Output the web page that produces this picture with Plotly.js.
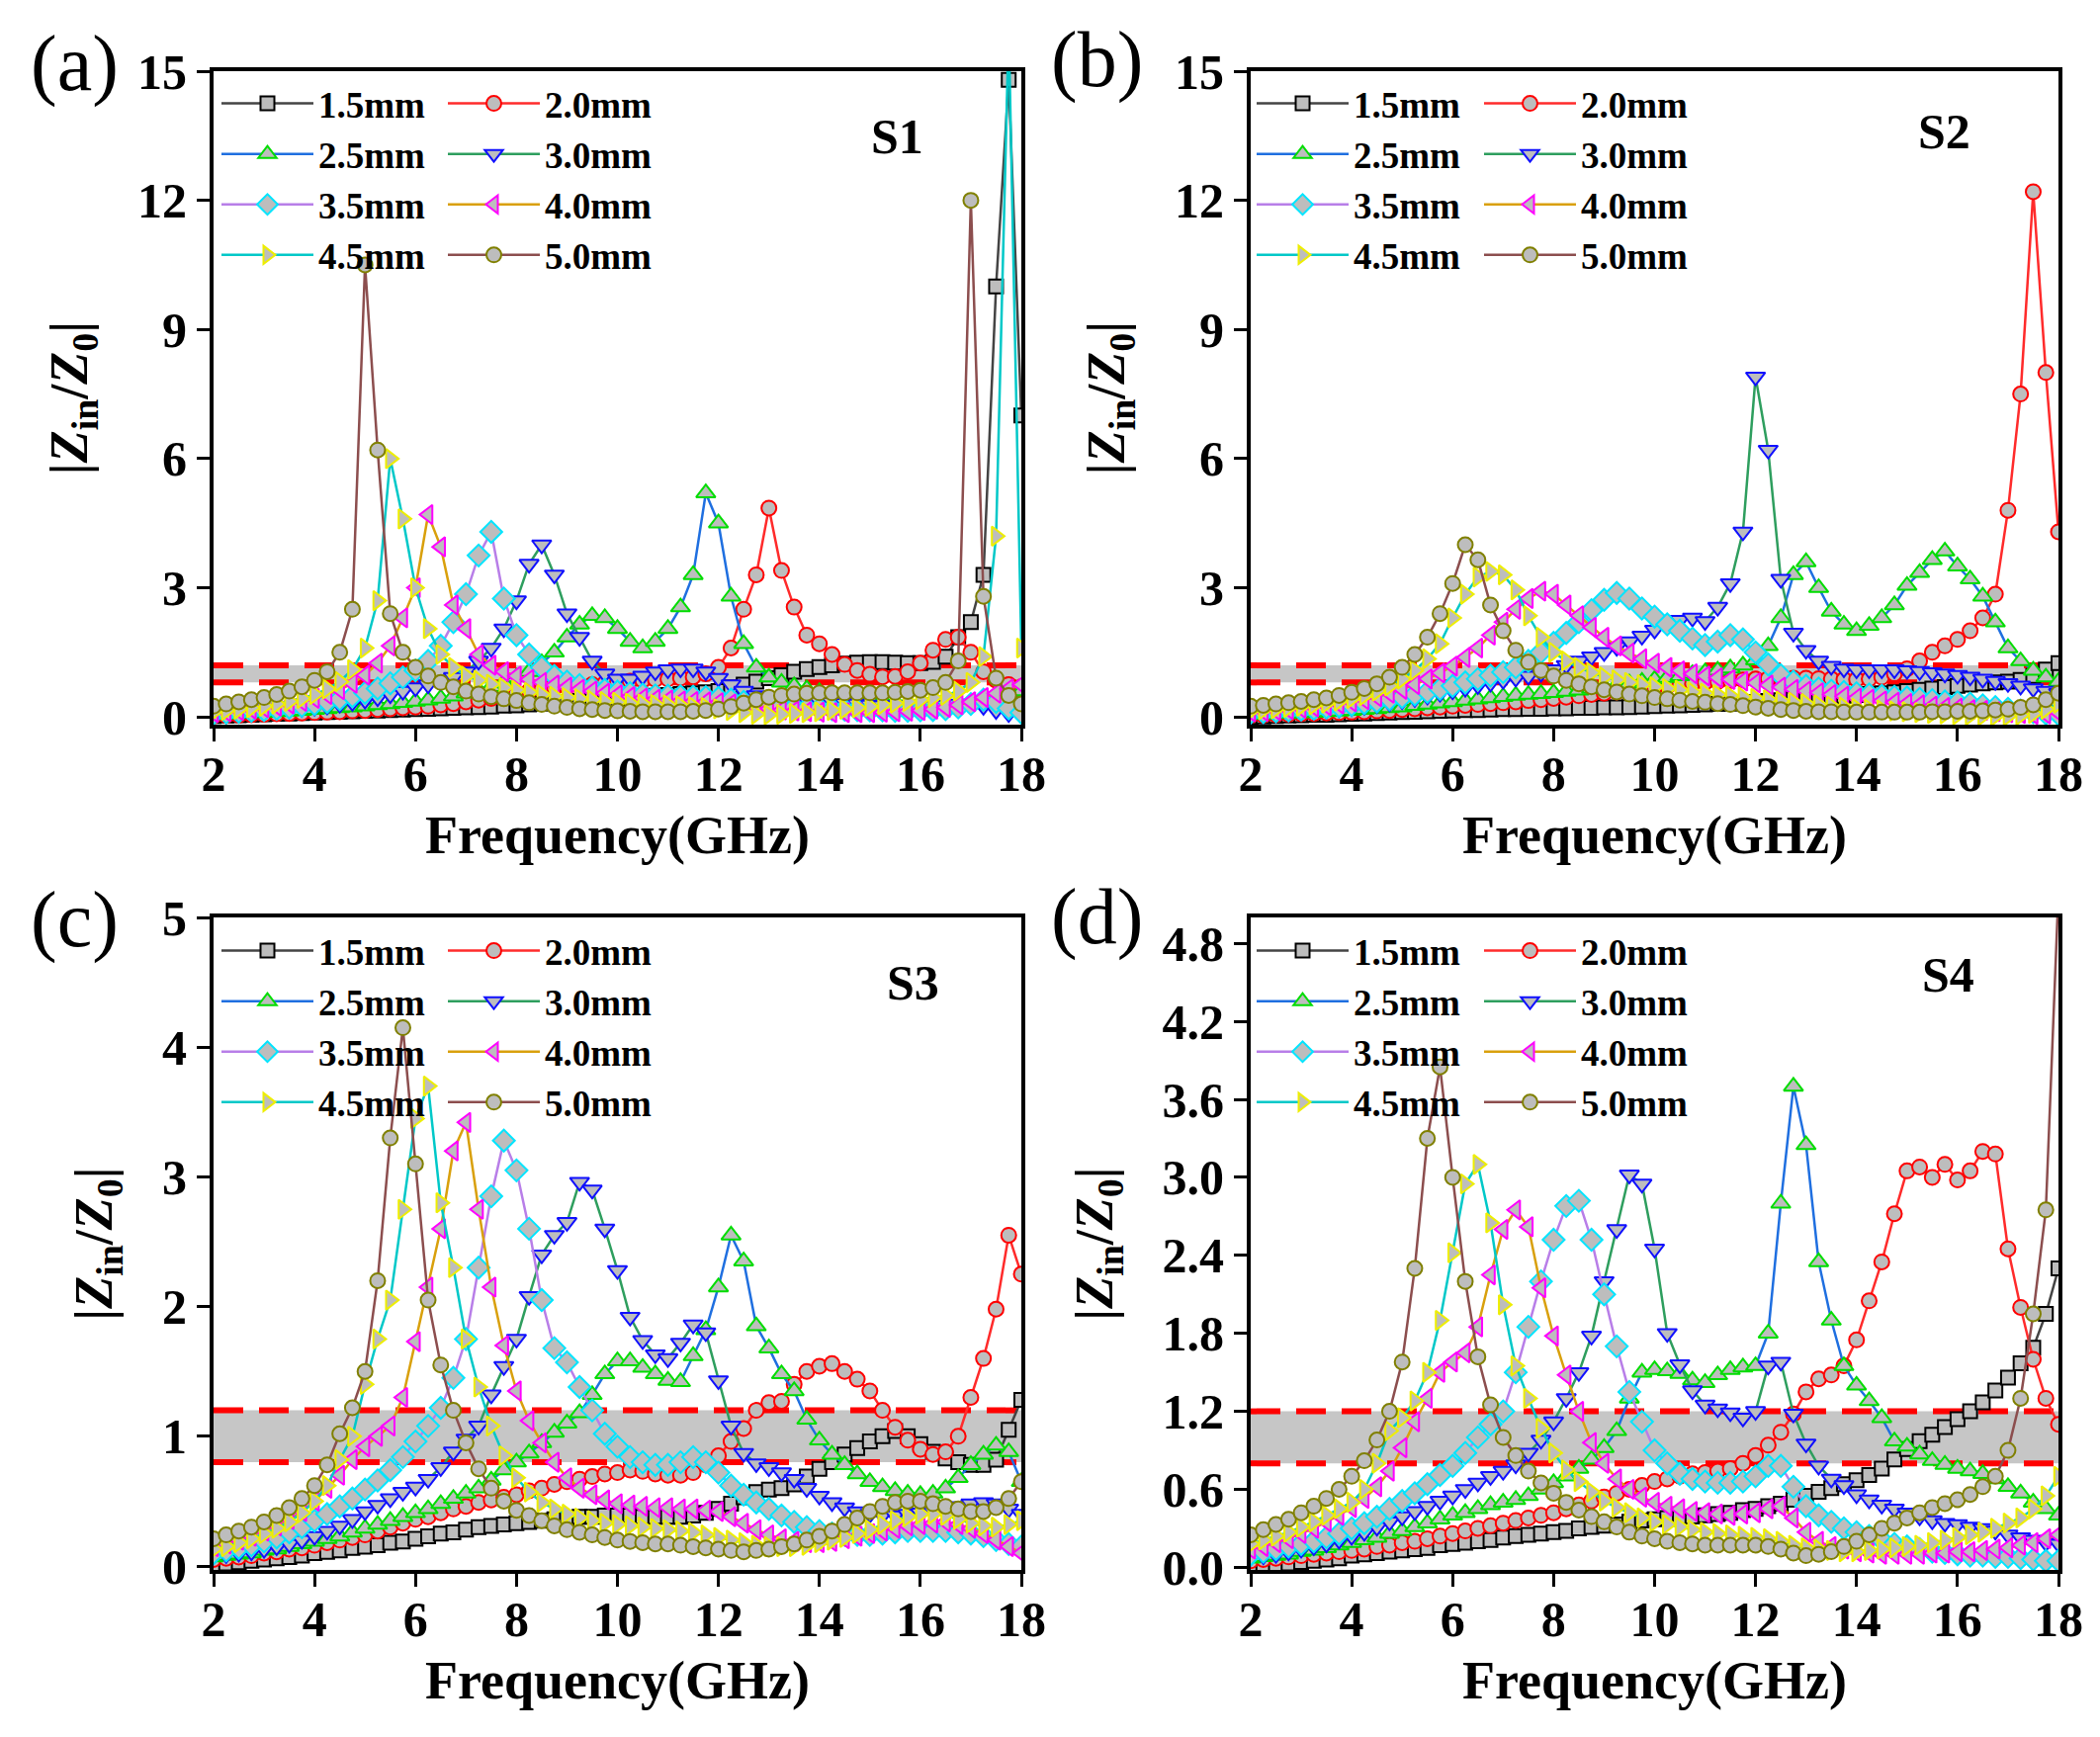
<!DOCTYPE html>
<html><head><meta charset="utf-8">
<script src="https://cdn.plot.ly/plotly-3.0.1.min.js"></script>
<style>html,body{margin:0;padding:0;background:#fff}</style>
</head><body><div id="chart" style="width:2124px;height:1757px"></div>
<script>
const freq = [2,2.25,2.5,2.75,3,3.25,3.5,3.75,4,4.25,4.5,4.75,5,5.25,5.5,5.75,6,6.25,6.5,6.75,7,7.25,7.5,7.75,8,8.25,8.5,8.75,9,9.25,9.5,9.75,10,10.25,10.5,10.75,11,11.25,11.5,11.75,12,12.25,12.5,12.75,13,13.25,13.5,13.75,14,14.25,14.5,14.75,15,15.25,15.5,15.75,16,16.25,16.5,16.75,17,17.25,17.5,17.75,18];
const thicknessNames = ['1.5mm','2.0mm','2.5mm','3.0mm','3.5mm','4.0mm','4.5mm','5.0mm'];
const panelLetters = ['(a)','(b)','(c)','(d)'];
const sampleNames = ['S1','S2','S3','S4'];
const bandLow = 0.8, bandHigh = 1.2;

// ---- S1 ----
const s1_15 = [.02,.03,.04,.05,.06,.07,.08,.09,.10,.11,.12,.13,.14,.15,.16,.17,.18,.19,.20,.21,.22,.23,.24,.26,.27,.29,.31,.33,.35,.37,.39,.41,.43,.45,.47,.49,.51,.53,.55,.57,.60,.68,.75,.82,.90,.97,1.05,1.11,1.16,1.20,1.24,1.26,1.27,1.27,1.26,1.25,1.25,1.28,1.40,1.85,2.20,3.30,10.0,14.8,7.0];
const s1_20 = [.02,.03,.04,.05,.06,.07,.08,.09,.10,.11,.12,.14,.15,.17,.19,.21,.23,.25,.28,.31,.35,.39,.43,.47,.55,.60,.64,.67,.70,.72,.75,.78,.80,.83,.85,.87,.88,.90,.93,1.0,1.15,1.6,2.5,3.3,4.85,3.4,2.55,1.9,1.7,1.45,1.22,1.08,.99,.93,.94,1.05,1.25,1.55,1.8,1.85,1.5,1.05,.85,.75,.70];
const s1_25 = [.05,.06,.08,.09,.10,.12,.13,.15,.17,.19,.21,.23,.25,.28,.30,.33,.36,.39,.43,.48,.55,.62,.70,.80,.92,1.05,1.25,1.5,1.85,2.15,2.35,2.3,2.05,1.75,1.6,1.75,2.05,2.55,3.3,5.2,4.5,2.8,1.7,1.15,.92,.80,.72,.65,.58,.53,.49,.45,.42,.39,.36,.34,.32,.30,.29,.30,.33,.38,.45,.55,.60];
const s1_30 = [.05,.07,.09,.11,.13,.15,.17,.20,.23,.26,.30,.34,.39,.45,.52,.60,.68,.75,.82,.92,1.05,1.3,1.6,2.05,2.7,3.55,4.0,3.3,2.4,1.85,1.3,1.0,.88,.88,.95,1.05,1.1,1.12,1.12,1.05,.90,.75,.60,.50,.45,.42,.40,.38,.36,.34,.32,.30,.28,.27,.26,.25,.25,.26,.28,.30,.30,.25,.15,.08,.05];
const s1_35 = [.08,.10,.12,.14,.16,.19,.22,.26,.30,.35,.41,.48,.56,.66,.78,.92,1.08,1.3,1.65,2.2,2.85,3.75,4.3,2.75,1.9,1.45,1.15,.95,.82,.74,.68,.63,.59,.55,.52,.50,.49,.48,.47,.46,.44,.40,.35,.31,.28,.25,.22,.20,.19,.18,.17,.16,.15,.15,.14,.14,.15,.16,.18,.22,.30,.40,.35,.20,.10];
const s1_40 = [.10,.12,.15,.18,.21,.25,.30,.36,.43,.52,.63,.78,.97,1.25,1.65,2.3,3.0,4.7,3.95,2.6,2.05,1.45,1.2,1.05,.95,.87,.80,.74,.69,.64,.60,.55,.51,.47,.44,.41,.39,.37,.36,.35,.33,.30,.26,.22,.19,.16,.14,.12,.11,.10,.10,.10,.10,.11,.12,.13,.15,.18,.22,.28,.35,.45,.55,.65,.75];
const s1_45 = [.12,.15,.18,.21,.25,.30,.36,.43,.52,.65,.82,1.1,1.6,2.7,6.0,4.6,3.0,2.05,1.45,1.15,.95,.85,.76,.68,.62,.57,.52,.48,.45,.42,.39,.36,.34,.32,.30,.29,.28,.26,.24,.22,.19,.15,.10,.06,.05,.06,.08,.10,.12,.15,.18,.21,.24,.28,.32,.36,.40,.45,.50,.60,.80,1.4,4.2,16,1.6];
const s1_50 = [.25,.30,.35,.40,.45,.52,.60,.70,.85,1.05,1.5,2.5,10.5,6.2,2.4,1.5,1.15,.95,.80,.70,.60,.53,.47,.42,.38,.33,.29,.25,.22,.19,.17,.15,.14,.13,.12,.12,.12,.12,.13,.15,.18,.24,.32,.40,.46,.50,.53,.55,.56,.56,.56,.56,.56,.56,.57,.59,.62,.68,.80,1.3,12.0,2.8,.90,.50,.30];
// ---- S2 ----
const s2_15 = [0,.01,.02,.03,.04,.05,.05,.06,.07,.08,.09,.10,.11,.12,.13,.14,.15,.16,.16,.17,.18,.18,.19,.19,.20,.20,.21,.21,.22,.22,.23,.24,.25,.26,.27,.28,.29,.30,.31,.33,.35,.37,.39,.41,.43,.45,.47,.49,.51,.53,.55,.57,.60,.63,.66,.69,.72,.75,.78,.80,.82,.86,.95,1.1,1.25];
const s2_20 = [.03,.04,.05,.06,.07,.08,.09,.10,.11,.12,.14,.15,.17,.19,.21,.23,.25,.27,.29,.31,.33,.35,.38,.40,.43,.46,.49,.52,.55,.58,.62,.65,.68,.71,.74,.77,.80,.82,.84,.86,.88,.89,.90,.90,.90,.89,.88,.87,.87,.88,.92,1.0,1.12,1.3,1.5,1.65,1.8,2.0,2.3,2.85,4.8,7.5,12.2,8.0,4.3];
const s2_25 = [.05,.06,.07,.08,.09,.10,.12,.13,.15,.17,.19,.21,.23,.26,.29,.32,.35,.38,.41,.44,.47,.50,.52,.54,.56,.59,.62,.66,.70,.74,.78,.82,.87,.91,.95,1.0,1.04,1.08,1.13,1.2,1.32,1.65,2.3,3.3,3.6,3.0,2.45,2.15,2.0,2.12,2.3,2.6,3.05,3.35,3.65,3.85,3.5,3.2,2.8,2.2,1.6,1.3,1.08,.92,.82];
const s2_30 = [.05,.06,.08,.10,.12,.14,.16,.19,.22,.25,.29,.33,.38,.43,.49,.55,.61,.67,.73,.79,.85,.90,.95,1.02,1.1,1.2,1.3,1.4,1.5,1.62,1.75,1.88,2.02,2.15,2.25,2.3,2.22,2.55,3.1,4.3,7.9,6.2,3.2,1.95,1.55,1.3,1.18,1.12,1.1,1.1,1.1,1.1,1.08,1.06,1.03,1.0,.97,.93,.88,.83,.78,.72,.66,.60,.55];
const s2_35 = [.10,.11,.13,.15,.17,.19,.22,.25,.28,.32,.36,.41,.46,.52,.58,.65,.72,.80,.88,.96,1.04,1.15,1.3,1.5,1.72,1.95,2.2,2.48,2.72,2.88,2.75,2.52,2.33,2.15,2.0,1.82,1.67,1.75,1.9,1.8,1.5,1.22,.97,.82,.72,.66,.61,.58,.55,.52,.49,.47,.45,.42,.39,.36,.34,.31,.27,.23,.19,.15,.11,.08,.06];
const s2_40 = [.12,.13,.15,.17,.20,.23,.26,.30,.35,.40,.47,.55,.64,.75,.88,1.02,1.18,1.38,1.6,1.9,2.2,2.5,2.75,2.92,2.85,2.6,2.35,2.08,1.85,1.65,1.48,1.35,1.25,1.15,1.07,1.0,.95,.91,.87,.83,.79,.74,.69,.64,.60,.56,.52,.48,.44,.41,.37,.34,.31,.28,.25,.22,.20,.17,.15,.12,.10,.08,.06,.07,.10];
const s2_45 = [.15,.17,.19,.22,.25,.28,.32,.37,.43,.50,.60,.72,.88,1.08,1.35,1.7,2.3,2.85,3.25,3.38,3.3,2.95,2.35,1.85,1.5,1.3,1.15,1.03,.93,.86,.80,.75,.70,.66,.62,.58,.55,.52,.49,.46,.43,.40,.37,.34,.31,.28,.25,.23,.20,.18,.16,.14,.12,.10,.08,.07,.05,.04,.03,.02,.02,.04,.08,.18,.32];
const s2_50 = [.25,.27,.30,.33,.36,.40,.44,.50,.57,.66,.77,.92,1.15,1.45,1.85,2.4,3.1,4.0,3.65,2.6,2.0,1.55,1.27,1.08,.95,.85,.77,.70,.63,.58,.53,.49,.45,.42,.39,.36,.34,.31,.29,.26,.23,.20,.17,.15,.13,.12,.12,.11,.11,.11,.11,.11,.11,.11,.12,.12,.13,.13,.14,.16,.18,.22,.28,.40,.55];
// ---- S3 ----
const s3_15 = [0,.02,.03,.04,.05,.06,.07,.08,.10,.11,.12,.14,.15,.16,.18,.19,.21,.23,.25,.26,.28,.30,.31,.32,.33,.34,.35,.36,.37,.38,.38,.39,.39,.39,.38,.38,.38,.38,.39,.41,.44,.48,.53,.57,.59,.60,.63,.69,.75,.80,.86,.91,.96,1.0,1.04,1.0,.94,.88,.83,.80,.78,.78,.82,1.05,1.28];
const s3_20 = [.05,.06,.07,.08,.10,.11,.13,.14,.16,.18,.20,.22,.24,.27,.30,.33,.36,.38,.41,.44,.46,.49,.51,.53,.55,.58,.60,.63,.65,.67,.69,.71,.72,.74,.73,.71,.70,.70,.72,.78,.85,.96,1.06,1.2,1.26,1.27,1.4,1.5,1.54,1.56,1.5,1.44,1.35,1.2,1.07,.97,.90,.86,.88,1.0,1.3,1.6,1.98,2.55,2.25];
const s3_25 = [.07,.08,.09,.10,.12,.13,.15,.17,.19,.21,.23,.26,.29,.32,.35,.38,.41,.44,.48,.52,.56,.60,.66,.74,.80,.87,.95,1.03,1.1,1.18,1.32,1.48,1.58,1.58,1.53,1.48,1.43,1.42,1.62,1.82,2.15,2.55,2.35,1.85,1.68,1.48,1.35,1.13,.97,.86,.78,.71,.65,.61,.58,.56,.55,.56,.60,.68,.78,.86,.93,.88,.65];
const s3_30 = [.08,.09,.10,.11,.13,.15,.17,.20,.23,.27,.31,.36,.42,.47,.52,.57,.61,.67,.76,.88,.98,1.08,1.32,1.54,1.75,2.08,2.4,2.55,2.65,2.96,2.9,2.6,2.28,1.92,1.74,1.63,1.6,1.72,1.86,1.8,1.43,1.08,.87,.79,.76,.72,.67,.60,.54,.49,.45,.42,.40,.39,.39,.40,.41,.42,.44,.46,.48,.49,.48,.44,.40];
const s3_35 = [.10,.12,.14,.16,.19,.22,.26,.30,.35,.40,.46,.52,.59,.66,.74,.84,.96,1.08,1.22,1.45,1.75,2.3,2.85,3.28,3.05,2.6,2.05,1.68,1.57,1.38,1.2,1.02,.92,.84,.80,.78,.78,.80,.84,.80,.72,.62,.55,.49,.44,.39,.34,.30,.27,.25,.24,.24,.24,.25,.26,.27,.27,.27,.27,.26,.25,.23,.20,.17,.15];
const s3_40 = [.15,.17,.20,.23,.27,.31,.36,.42,.50,.60,.70,.82,.92,1.0,1.08,1.3,1.73,2.15,2.6,3.2,3.42,2.75,2.15,1.7,1.35,1.12,.95,.80,.68,.60,.55,.51,.48,.47,.46,.45,.45,.44,.44,.43,.42,.38,.33,.28,.24,.21,.19,.18,.18,.19,.21,.23,.25,.27,.29,.31,.32,.33,.34,.32,.29,.25,.20,.15,.10];
const s3_45 = [.13,.15,.18,.21,.25,.29,.34,.41,.50,.62,.82,1.0,1.4,1.75,2.05,2.75,3.45,3.7,2.8,2.3,1.75,1.38,1.08,.85,.68,.57,.49,.44,.40,.37,.35,.33,.32,.31,.30,.29,.28,.27,.26,.24,.22,.20,.18,.16,.15,.15,.15,.16,.18,.20,.22,.25,.28,.32,.35,.38,.40,.40,.39,.36,.33,.31,.30,.32,.35];
const s3_50 = [.21,.24,.27,.30,.34,.39,.45,.52,.62,.78,1.02,1.22,1.5,2.2,3.3,4.15,3.1,2.05,1.55,1.2,.95,.75,.60,.50,.43,.39,.35,.31,.28,.26,.24,.22,.20,.19,.18,.17,.17,.16,.15,.14,.13,.12,.11,.12,.13,.15,.17,.20,.23,.27,.32,.37,.42,.46,.49,.50,.50,.48,.46,.44,.42,.42,.45,.52,.65];
// ---- S4 ----
const s4_15 = [0,.01,.02,.03,.04,.05,.06,.07,.09,.10,.11,.12,.13,.14,.15,.17,.18,.19,.20,.21,.23,.24,.25,.26,.27,.28,.30,.31,.32,.33,.35,.36,.37,.38,.39,.39,.40,.41,.42,.44,.45,.47,.49,.52,.55,.58,.61,.64,.67,.71,.76,.83,.91,.97,1.02,1.08,1.14,1.2,1.27,1.36,1.46,1.57,1.69,1.95,2.3];
const s4_20 = [.05,.06,.07,.08,.09,.10,.11,.12,.13,.14,.16,.17,.19,.20,.22,.24,.26,.28,.30,.32,.34,.36,.38,.40,.42,.45,.48,.51,.54,.57,.60,.63,.66,.68,.70,.72,.73,.74,.76,.80,.86,.94,1.04,1.18,1.35,1.45,1.48,1.55,1.75,2.05,2.35,2.72,3.05,3.08,3.0,3.1,2.98,3.05,3.2,3.18,2.45,2.0,1.6,1.3,1.1];
const s4_25 = [.07,.08,.09,.10,.12,.13,.15,.17,.19,.21,.23,.26,.28,.31,.34,.37,.40,.42,.45,.48,.50,.52,.55,.60,.65,.70,.76,.83,.92,1.05,1.3,1.5,1.52,1.51,1.49,1.44,1.42,1.48,1.52,1.54,1.55,1.8,2.8,3.7,3.25,2.35,1.9,1.55,1.4,1.28,1.15,.97,.93,.87,.82,.79,.76,.74,.72,.68,.62,.57,.50,.45,.40];
const s4_30 = [.08,.09,.10,.12,.14,.16,.18,.21,.24,.27,.31,.35,.39,.43,.47,.51,.55,.60,.65,.70,.74,.79,.88,.98,1.12,1.3,1.5,1.78,2.2,2.6,3.02,2.95,2.45,1.8,1.56,1.36,1.25,1.22,1.19,1.15,1.2,1.55,1.58,1.18,.95,.78,.68,.63,.56,.52,.48,.45,.42,.39,.36,.34,.33,.31,.30,.28,.25,.23,.21,.19,.18];
const s4_35 = [.10,.12,.14,.16,.18,.20,.23,.26,.30,.34,.39,.45,.51,.57,.64,.71,.78,.88,1.0,1.1,1.2,1.5,1.85,2.2,2.52,2.78,2.82,2.52,2.1,1.7,1.35,1.12,.90,.80,.72,.68,.66,.65,.65,.66,.70,.78,.78,.62,.47,.40,.35,.30,.27,.24,.21,.18,.16,.14,.12,.11,.10,.09,.09,.08,.08,.07,.06,.05,.05];
const s4_40 = [.14,.16,.19,.22,.26,.30,.35,.40,.46,.53,.62,.74,.92,1.12,1.3,1.5,1.58,1.65,1.85,2.25,2.6,2.75,2.62,2.15,1.78,1.48,1.2,.96,.80,.68,.60,.54,.50,.47,.45,.43,.42,.41,.40,.41,.42,.45,.47,.38,.27,.20,.16,.14,.12,.11,.10,.10,.10,.10,.11,.11,.12,.12,.13,.14,.15,.17,.19,.22,.25];
const s4_45 = [.18,.21,.24,.27,.31,.35,.40,.45,.50,.60,.80,1.05,1.15,1.28,1.5,1.9,2.42,2.95,3.1,2.65,2.02,1.55,1.3,1.07,.88,.75,.66,.58,.51,.46,.42,.38,.35,.33,.31,.29,.27,.26,.25,.24,.23,.22,.20,.17,.15,.14,.13,.12,.12,.13,.14,.15,.16,.17,.19,.21,.23,.25,.27,.30,.34,.38,.45,.55,.70];
const s4_50 = [.25,.29,.33,.37,.42,.47,.53,.60,.70,.82,.98,1.2,1.58,2.3,3.3,3.85,3.0,2.2,1.62,1.25,1.0,.86,.74,.65,.57,.50,.44,.39,.35,.31,.27,.24,.22,.20,.19,.18,.17,.17,.17,.17,.17,.16,.14,.11,.09,.10,.12,.16,.20,.25,.30,.34,.38,.42,.46,.49,.52,.56,.62,.70,.90,1.3,1.95,2.75,5.2];

const yTicks_S12 = [0,3,6,9,12,15];
const yTicks_S3 = [0,1,2,3,4,5];
const yTicks_S4 = [0,0.6,1.2,1.8,2.4,3.0,3.6,4.2,4.8];
const xTicks = [2,4,6,8,10,12,14,16,18];

const styles = [
  {line:'#444444', edge:'#000000', symbol:'square', size:14},
  {line:'#ff2b2b', edge:'#ff0000', symbol:'circle', size:15},
  {line:'#1f6fe0', edge:'#00dd00', symbol:'triangle-up', size:17},
  {line:'#2e9e5e', edge:'#1010ff', symbol:'triangle-down', size:17},
  {line:'#b87ee8', edge:'#00e5ff', symbol:'diamond', size:17},
  {line:'#d9a00c', edge:'#ff00ff', symbol:'triangle-left', size:17},
  {line:'#00c8c8', edge:'#eeee00', symbol:'triangle-right', size:17},
  {line:'#8c4e4e', edge:'#808000', symbol:'circle', size:15}
];
const FILL = '#bdbdbd';
const FONT = 'Liberation Serif';

const W = 2124, H = 1757;
const px = v => v / W;
const py = v => 1 - v / H;

const panels = [
  {xa:'x', ya:'y', xk:'xaxis', yk:'yaxis', series:[s1_15,s1_20,s1_25,s1_30,s1_35,s1_40,s1_45,s1_50], legs:['legend','legend2'],
   xdom:[px(216),px(1033)], ydom:[py(733),py(72)], yr:[-0.18,15], yt:yTicks_S12, fmt:'', legX:[219,448], legTop:74, lab:[75,64], s:[907,138]},
  {xa:'x2', ya:'y2', xk:'xaxis2', yk:'yaxis2', series:[s2_15,s2_20,s2_25,s2_30,s2_35,s2_40,s2_45,s2_50], legs:['legend3','legend4'],
   xdom:[px(1265),px(2082)], ydom:[py(733),py(72)], yr:[-0.18,15], yt:yTicks_S12, fmt:'', legX:[1266,1496], legTop:74, lab:[1109,60], s:[1966,133]},
  {xa:'x3', ya:'y3', xk:'xaxis3', yk:'yaxis3', series:[s3_15,s3_20,s3_25,s3_30,s3_35,s3_40,s3_45,s3_50], legs:['legend5','legend6'],
   xdom:[px(216),px(1033)], ydom:[py(1588),py(928)], yr:[-0.03,5], yt:yTicks_S3, fmt:'', legX:[219,448], legTop:931, lab:[75,930], s:[923,994]},
  {xa:'x4', ya:'y4', xk:'xaxis4', yk:'yaxis4', series:[s4_15,s4_20,s4_25,s4_30,s4_35,s4_40,s4_45,s4_50], legs:['legend7','legend8'],
   xdom:[px(1265),px(2082)], ydom:[py(1588),py(928)], yr:[-0.02,5.0], yt:yTicks_S4, fmt:'.1f', legX:[1266,1496], legTop:931, lab:[1109,927], s:[1970,986]}
];

const traces = [];
const layout = {
  width: W, height: H,
  margin: {l:0, r:0, t:0, b:0},
  paper_bgcolor: '#ffffff', plot_bgcolor: '#ffffff',
  showlegend: true,
  shapes: [], annotations: [],
  font: {family: FONT, color: '#000'}
};

panels.forEach((p, pi) => {
  p.series.forEach((vals, k) => {
    const st = styles[k];
    traces.push({
      type:'scatter', mode:'lines+markers', x: freq, y: vals,
      xaxis: p.xa, yaxis: p.ya, name: thicknessNames[k],
      legend: p.legs[k % 2],
      line: {color: st.line, width: 2.5},
      marker: {symbol: st.symbol, size: st.size, color: FILL, line: {color: st.edge, width: 2}},
      cliponaxis: true
    });
  });
  p.legs.forEach((lg, j) => {
    layout[lg] = {
      x: px(p.legX[j]), y: py(p.legTop), xanchor:'left', yanchor:'top',
      xref:'paper', yref:'paper',
      bgcolor:'rgba(0,0,0,0)', borderwidth:0,
      itemwidth: 93, tracegroupgap: 0,
      font: {family: FONT, size: 37, weight: 'bold', color:'#000'}
    };
  });
  layout[p.xk] = {
    domain: p.xdom, anchor: p.ya, range:[2,18], tickvals: xTicks,
    ticks:'outside', ticklen:13, tickwidth:3, tickcolor:'#000',
    ticklabelstandoff: -10,
    showline:true, linewidth:4, linecolor:'#000', mirror:true,
    showgrid:false, zeroline:false,
    tickfont:{family:FONT, size:50, weight:'bold', color:'#000'},
    title:{text:'Frequency(GHz)', standoff: 16, font:{family:FONT, size:54, weight:'bold', color:'#000'}}
  };
  layout[p.yk] = {
    domain: p.ydom, anchor: p.xa, range: p.yr, tickvals: p.yt, tickformat: p.fmt,
    ticks:'outside', ticklen:13, tickwidth:3, tickcolor:'#000',
    showline:true, linewidth:4, linecolor:'#000', mirror:true,
    showgrid:false, zeroline:false,
    tickfont:{family:FONT, size:50, weight:'bold', color:'#000'},
    title:{text:'|<i>Z</i><sub>in</sub>/<i>Z</i><sub>0</sub>|', standoff: 34, font:{family:FONT, size:54, weight:'bold', color:'#000'}}
  };
  const xr = p.xa + ' domain';
  layout.shapes.push({type:'rect', xref:xr, yref:p.ya, x0:0, x1:1, y0:bandLow, y1:bandHigh,
    fillcolor:'#c6c6c6', line:{width:0}, layer:'below'});
  [bandLow, bandHigh].forEach(v => layout.shapes.push({type:'line', xref:xr, yref:p.ya, x0:0, x1:1, y0:v, y1:v,
    line:{color:'#ff0000', width:6, dash:'30px,16px'}, layer:'below'}));
  layout.annotations.push({text: panelLetters[pi], xref:'paper', yref:'paper', x:px(p.lab[0]), y:py(p.lab[1]),
    xanchor:'center', yanchor:'middle', showarrow:false, font:{family:FONT, size:80, color:'#000'}});
  layout.annotations.push({text: sampleNames[pi], xref:'paper', yref:'paper', x:px(p.s[0]), y:py(p.s[1]),
    xanchor:'center', yanchor:'middle', showarrow:false, font:{family:FONT, size:50, weight:'bold', color:'#000'}});
});

Plotly.newPlot('chart', traces, layout, {displayModeBar:false, staticPlot:true});
</script></body></html>
